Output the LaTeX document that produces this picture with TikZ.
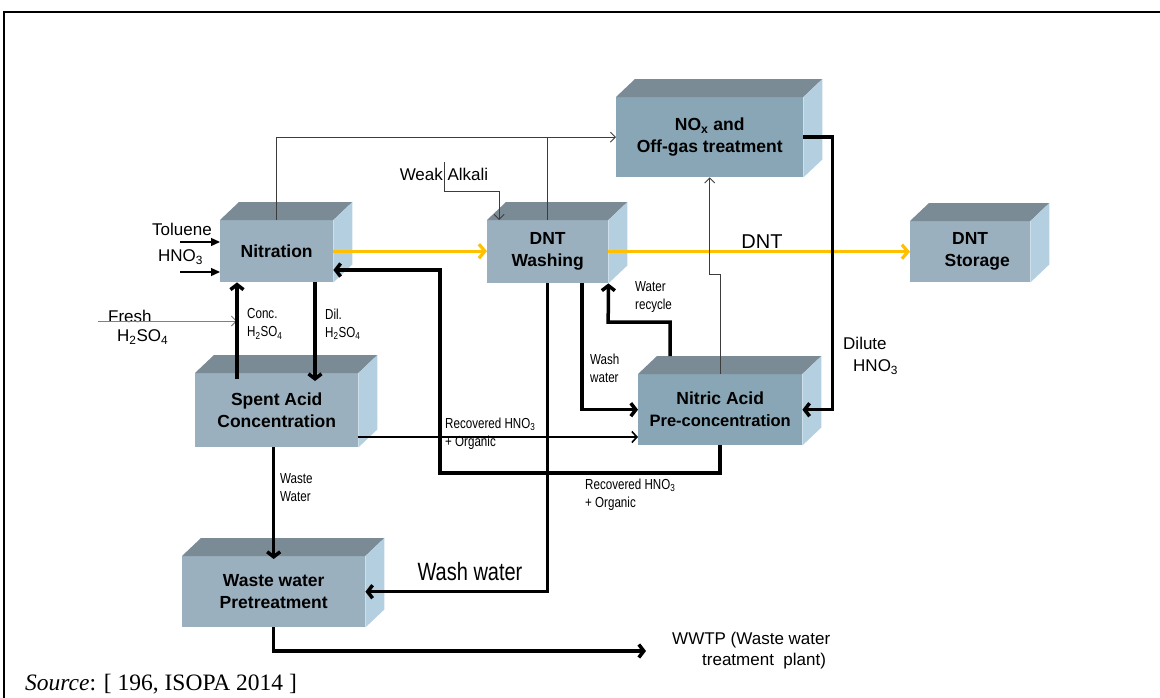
\documentclass[tikz,border=0pt]{standalone}
\usepackage{fontspec}
\setmainfont{Liberation Sans}
\newfontfamily\narrowfont[FakeStretch=0.8]{Liberation Sans}
\newfontfamily\timesfont{Liberation Serif}
\usetikzlibrary{arrows.meta}
\definecolor{boxfront}{HTML}{9BB0BE}
\definecolor{boxfrontb}{HTML}{88A6B5}
\definecolor{boxtop}{HTML}{7B8B95}
\definecolor{boxside}{HTML}{B4CFDF}
\definecolor{dntyellow}{HTML}{FFC000}
\definecolor{linegray}{HTML}{3C3C3C}

\begin{document}
\begin{tikzpicture}[x=1pt, y=-1pt,
  box/.style={fill=boxfront, inner sep=0pt, anchor=north west, align=center, font=\fontsize{17.5}{22}\selectfont\bfseries},
  lbl/.style={font=\narrowfont\fontsize{14.5}{18}\selectfont, inner sep=0pt, align=left, anchor=west},
  txt/.style={font=\fontsize{17}{21}\selectfont, inner sep=0pt},
  heavy/.style={line width=3.5pt, -{Straight Barb[length=5pt,width=13pt]}},
  medarrow/.style={line width=1.6pt, -{Straight Barb[length=5pt,width=11pt]}},
  thinline/.style={line width=0.9pt, draw=linegray},
  thinarrow/.style={thinline, -{Straight Barb[length=5pt,width=10pt]}},
  feed/.style={line width=1.3pt, -{Triangle[length=9pt,width=8pt]}},
  yellowarrow/.style={draw=dntyellow, line width=3.2pt, -{Straight Barb[length=6pt,width=14pt]}}]
  \useasboundingbox (0,0) rectangle (1160,697);
  \clip (0,0) rectangle (1160,697);
  \fill[white] (0,0) rectangle (1160,697);
  \draw[line width=2.5pt] (4,710) -- (4,12) -- (1170,12);

  \node[box, minimum width=113pt, minimum height=62pt] (nitr) at (220,220) {Nitration};
  \node[box, minimum width=121pt, minimum height=63pt] (wash) at (487,220) {DNT\\Washing};
  \node[box, fill=boxfrontb, minimum width=187pt, minimum height=80pt] (nox) at (616,97) {NO\textsubscript{x} and\\Off-gas treatment};
  \node[box, minimum width=120pt, minimum height=61pt] (stor) at (910,221) {DNT\\\hspace*{14pt}Storage};
  \node[box, minimum width=163pt, minimum height=74pt] (spent) at (195,373) {Spent Acid\\Concentration};
  \node[box, fill=boxfrontb, minimum width=164pt, minimum height=71pt] (nitric) at (638,374) {Nitric Acid\\{\fontsize{16.5}{20}\selectfont Pre-concentration}};
  \node[box, minimum width=183pt, minimum height=71pt] (waste) at (182,556) {Waste water\\Pretreatment};
  \foreach \b in {nitr,wash,nox,stor,spent,nitric,waste}{
    \fill[boxtop] (\b.north west) -- ++(19,-18) -- ([shift={(19,-18)}]\b.north east) -- (\b.north east) -- cycle;
    \fill[boxside] (\b.north east) -- ++(19,-18) -- ([shift={(19,-18)}]\b.south east) -- (\b.south east) -- cycle;
  }

  \node[txt, anchor=west] (tol) at (152,229) {Toluene};
  \node[txt, anchor=west] (hno) at (158,257) {HNO\textsubscript{3}};
  \node[txt, anchor=west] (fresh) at (108,316) {Fresh};
  \node[txt, anchor=west] (freshacid) at (117,337) {H\textsubscript{2}SO\textsubscript{4}};
  \node[txt] (alk) at (444,174) {Weak Alkali};
  \node[txt, font=\fontsize{20}{24}\selectfont] (dntl) at (762,242) {DNT};
  \node[txt, anchor=west] (dilute) at (843,343) {Dilute};
  \node[txt, anchor=west] (dilacid) at (853,367) {HNO\textsubscript{3}};
  \node[txt, anchor=west, align=left] (wwtp) at (672,651) {WWTP (Waste water\\\hspace*{30pt}treatment\ \ plant)};
  \node[txt, font=\narrowfont\fontsize{25}{30}\selectfont] (washl) at (470,572) {Wash water};
  \node[lbl] (concl) at (247,324) {Conc.\\H\textsubscript{2}SO\textsubscript{4}};
  \node[lbl] (dill) at (325,324) {Dil.\\H\textsubscript{2}SO\textsubscript{4}};
  \node[lbl] (recl) at (445,434) {Recovered HNO\textsubscript{3}\\+ Organic};
  \node[lbl] (recl2) at (585,495) {Recovered HNO\textsubscript{3}\\+ Organic};
  \node[lbl] (washwl) at (590,368) {Wash\\water};
  \node[lbl] (recycl) at (635,297) {Water\\recycle};
  \node[lbl] (wastel) at (280,488) {Waste\\Water};
  \node[anchor=base west, inner sep=0pt, font=\timesfont\fontsize{23.5}{28}\selectfont] (src) at (25,690) {\textit{Source}: [ 196, ISOPA 2014 ]};

  \coordinate (tolin) at (180,242);
  \coordinate (hnoin) at (180,272);
  \coordinate (freshin) at (98,321);
  \coordinate (concx) at (237,0);
  \coordinate (dilx) at (315,0);
  \coordinate (alkin) at (444,162);
  \coordinate (recbend) at (440,473);

  \draw[feed] (tolin) -- (tolin -| nitr.west);
  \draw[feed] (hnoin) -- (hnoin -| nitr.west);
  \draw[thinarrow, draw=gray] (freshin) -- (freshin -| concx);
  \draw[heavy, shorten <=-6pt] (spent.north -| concx) -- (nitr.south -| concx);
  \draw[heavy, shorten >=-8pt] (nitr.south -| dilx) -- (spent.north -| dilx);
  \draw[yellowarrow] (nitr.east) -- (nitr.east -| wash.west);
  \draw[yellowarrow] (wash.east) -- (wash.east -| stor.west);
  \draw[thinarrow] (nitr.north) |- (nox.west);
  \draw[thinline] (wash.north) -- (wash.north |- nox.west);
  \draw[thinarrow] (alkin) -- ++(0,29) -| ([xshift=-48.5pt]wash.north);
  \draw[heavy] (nitric.south) |- (recbend) |- (nitr.east |- 0,270);
  \draw[medarrow] (spent.east |- 0,437) -- (nitric.west |- 0,437);
  \draw[heavy] (wash.south) |- (waste.east);
  \draw[heavy] ([xshift=34.5pt]wash.south) |- (nitric.west);
  \draw[heavy, shorten <=18pt] ([xshift=-50pt]nitric.north) |- ++(-62,-52) -- (wash.south east);
  \draw[thinarrow] (nitric.north) -- ++(0,-100) -| (nox.south);
  \draw[heavy] (nox.east) -- ++(29,0) |- (nitric.east);
  \draw[heavy, shorten >=-3pt] (spent.south -| waste.north) -- (waste.north);
  \draw[heavy, shorten >=26pt] (waste.south) |- (wwtp.west);
\end{tikzpicture}
\end{document}
